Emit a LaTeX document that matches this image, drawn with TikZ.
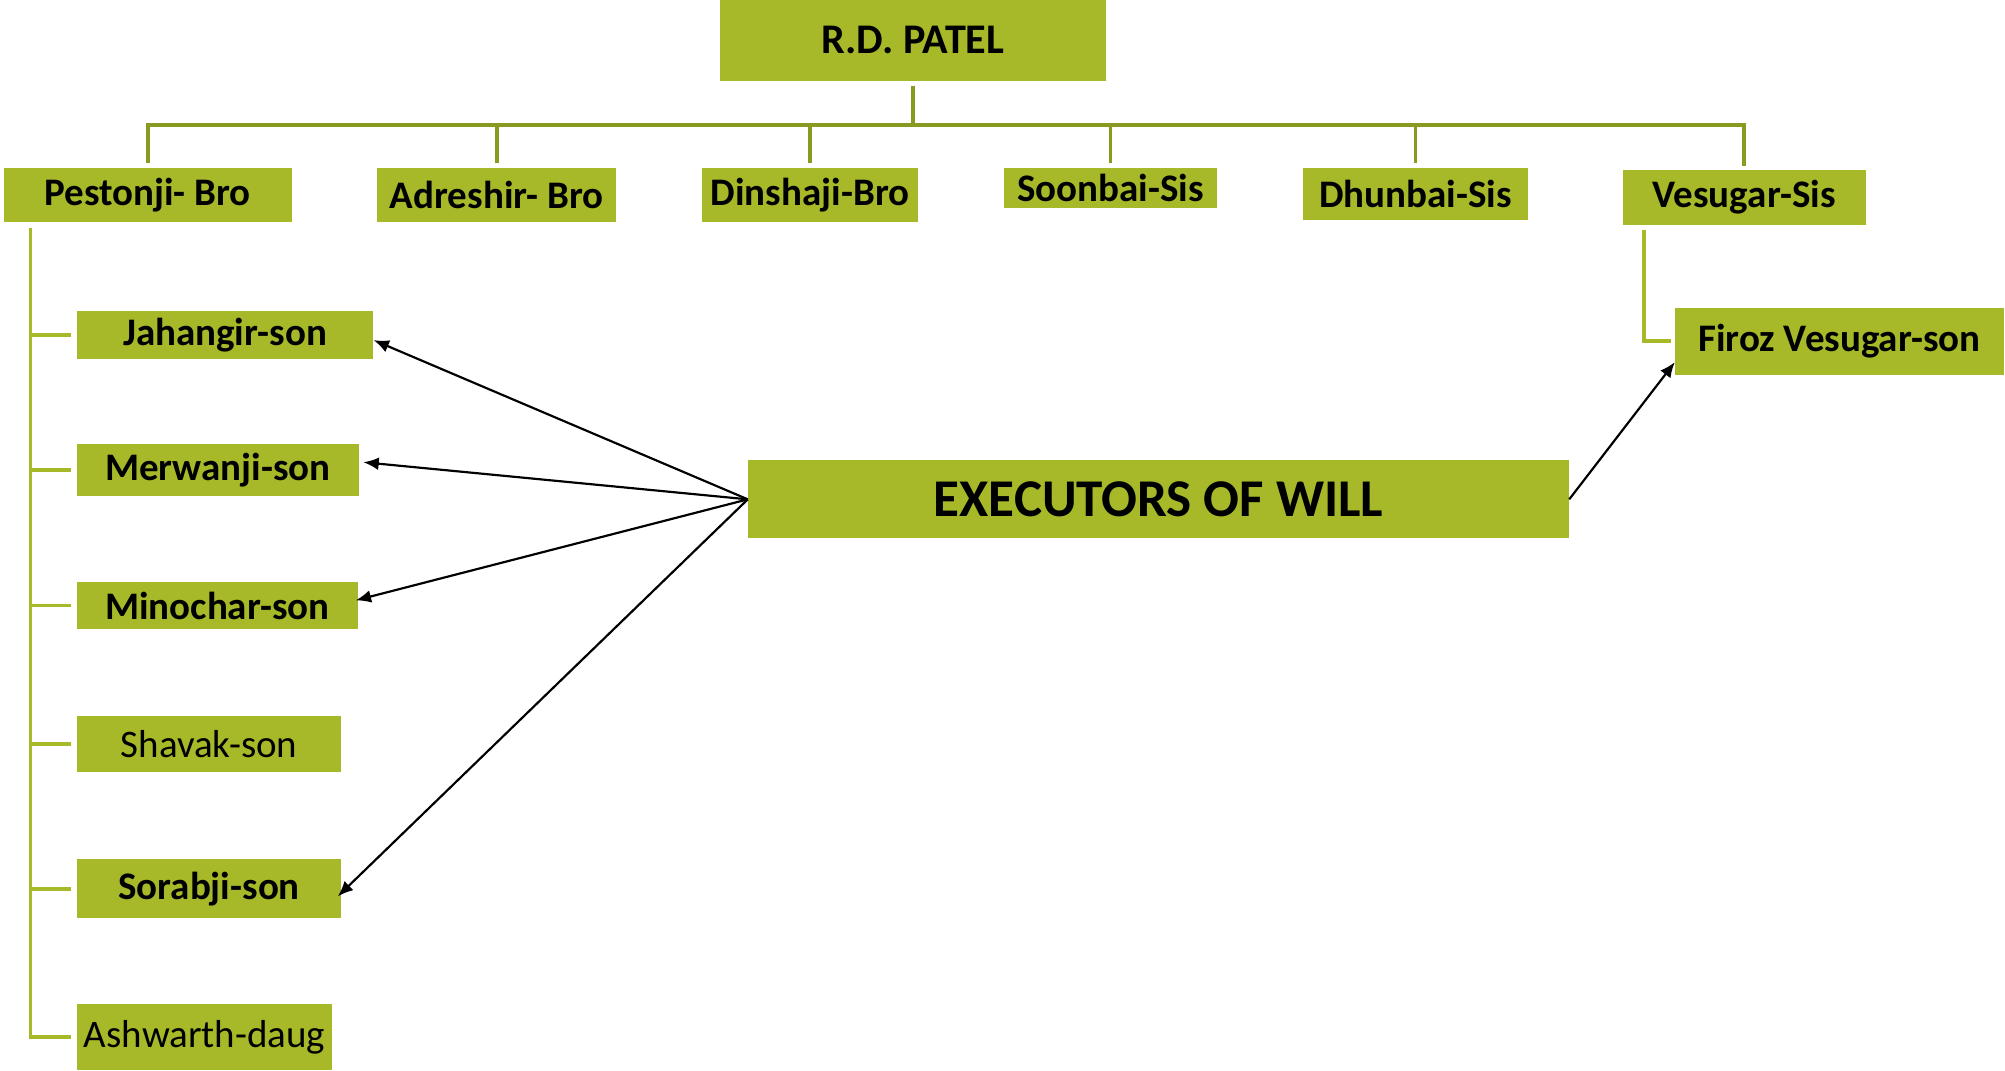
\documentclass[tikz,border=0pt]{standalone}
\usepackage{fontspec}
\setmainfont{Carlito}
\usetikzlibrary{arrows.meta,positioning}
\definecolor{olivebox}{RGB}{167,185,41}
\definecolor{olivetree}{RGB}{138,153,32}
\tikzset{
  >={Latex[length=12pt,width=10pt]},
  box/.style={rectangle,fill=olivebox,inner sep=0pt,font=\bfseries\fontsize{30.5}{32}\selectfont},
  plainbox/.style={box,font=\fontsize{30.5}{32}\selectfont},
  tree/.style={draw=olivetree,line width=3pt},
  kidline/.style={draw=olivebox,line width=3pt},
  will/.style={draw=black,line width=1.7pt,->},
}
\begin{document}
\begin{tikzpicture}[x=1pt,y=-1pt]
  \useasboundingbox (0,0) rectangle (1568,837);
  \node[box,minimum width=302,minimum height=63,font=\bfseries\fontsize{33}{34}\selectfont] (rdp) at (714,31.5) {R.D. PATEL};

  \node[box,minimum width=225,minimum height=43] (pest) at (115.5,152.5) {Pestonji- Bro};
  \node[box,minimum width=187,minimum height=43] (adr) at (388.5,152.5) {Adreshir- Bro};
  \node[box,minimum width=169,minimum height=43] (din) at (633.5,152.5) {Dinshaji-Bro};
  \node[box,minimum width=167,minimum height=32] (soon) at (868.5,147) {Soonbai-Sis};
  \node[box,minimum width=176,minimum height=41] (dhun) at (1107,151.5) {Dhunbai-Sis};
  \node[box,minimum width=190,minimum height=43] (ves) at (1364,154.5) {Vesugar-Sis};

  \node[box,minimum width=232,minimum height=38] (jah) at (176,262) {Jahangir-son};
  \node[box,minimum width=221,minimum height=41] (mer) at (170.5,367.5) {Merwanji-son};
  \node[box,minimum width=220,minimum height=37] (mino) at (170,473.5) {Minochar-son};
  \node[plainbox,minimum width=207,minimum height=44] (sha) at (163.5,582) {Shavak-son};
  \node[box,minimum width=207,minimum height=46] (sor) at (163.5,695) {Sorabji-son};
  \node[plainbox,minimum width=200,minimum height=52] (ash) at (160,811) {Ashwarth-daug};

  \node[box,minimum width=257,minimum height=52] (fir) at (1438.5,267) {Firoz Vesugar-son};
  \node[box,minimum width=642,minimum height=61,font=\bfseries\fontsize{41.5}{43}\selectfont] (exe) at (906,390.5) {EXECUTORS OF WILL};

  \coordinate (bus) at (714,98);
  \draw[tree] ([yshift=-4pt]rdp.south) -- (bus);
  \foreach \n in {pest,adr,din,soon,dhun,ves}
    \draw[tree] (bus) -| ([yshift=3pt]\n.north);

  \coordinate (spine) at ([xshift=21pt,yshift=-4pt]pest.south west);
  \foreach \k in {jah,mer,mino,sha,sor,ash}
    \draw[kidline] (spine) |- ([xshift=-4pt]\k.west);
  \draw[kidline] ([xshift=17pt,yshift=-4pt]ves.south west) |- ([xshift=-3pt]fir.west);

  \draw[will] (exe.west) -- ([yshift=-4pt]jah.east);
  \draw[will] (exe.west) -- ([xshift=3pt,yshift=6pt]mer.east);
  \draw[will] (exe.west) -- ([xshift=-2pt,yshift=4pt]mino.east);
  \draw[will] (exe.west) -- ([xshift=-3pt,yshift=-6pt]sor.east);
  \draw[will] (exe.east) -- ([yshift=10pt]fir.south west);
\end{tikzpicture}
\end{document}
